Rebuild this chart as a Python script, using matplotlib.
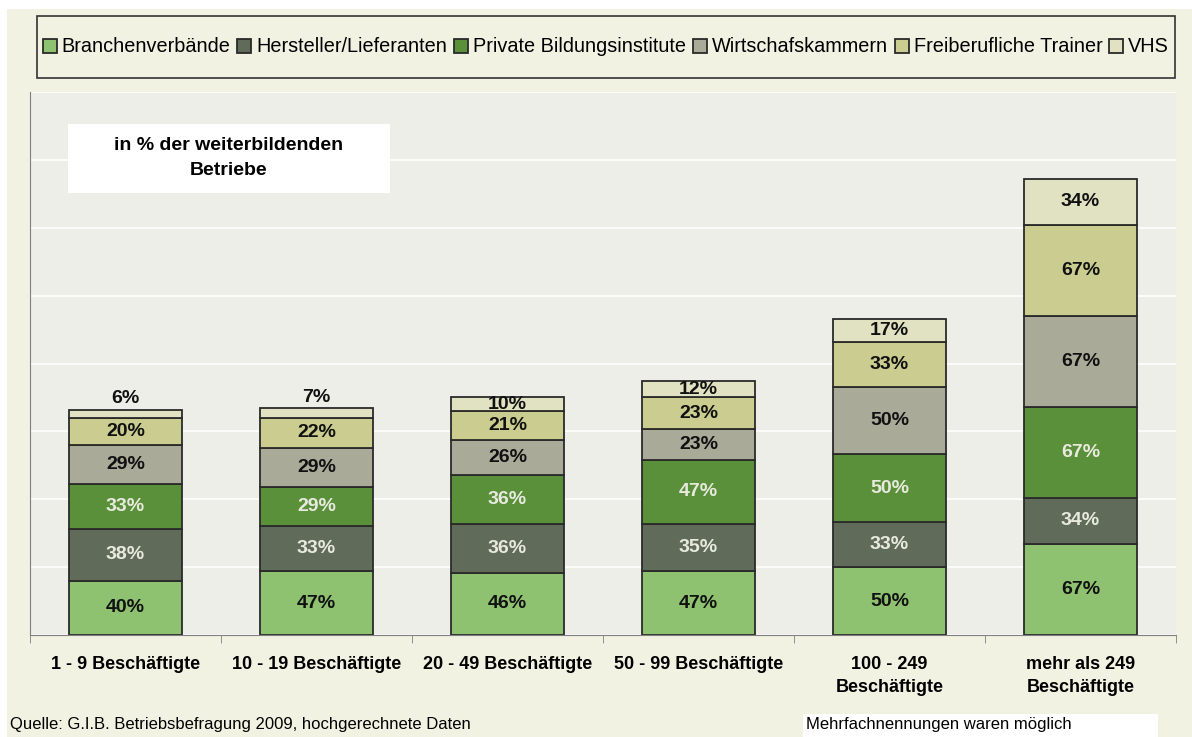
import numpy as np
from matplotlib import pyplot as plt
from matplotlib.patches import Rectangle

plt.rcParams["font.family"] = ["Liberation Sans", "DejaVu Sans"]

categories = [
    "1 - 9 Beschäftigte",
    "10 - 19 Beschäftigte",
    "20 - 49 Beschäftigte",
    "50 - 99 Beschäftigte",
    "100 - 249\nBeschäftigte",
    "mehr als 249\nBeschäftigte",
]
series_names = [
    "Branchenverbände",
    "Hersteller/Lieferanten",
    "Private Bildungsinstitute",
    "Wirtschafskammern",
    "Freiberufliche Trainer",
    "VHS",
]
branchenverbaende = [40, 47, 46, 47, 50, 67]
hersteller = [38, 33, 36, 35, 33, 34]
private_institute = [33, 29, 36, 47, 50, 67]
wirtschaftskammern = [29, 29, 26, 23, 50, 67]
freiberufliche = [20, 22, 21, 23, 33, 67]
vhs = [6, 7, 10, 12, 17, 34]

series = [branchenverbaende, hersteller, private_institute,
          wirtschaftskammern, freiberufliche, vhs]
colors = ["#8ec270", "#606b5a", "#5a9039", "#a9aa98", "#cacd8f", "#e0e2c2"]
label_colors = ["#111111", "#e8eadf", "#e8eadf", "#111111", "#111111", "#111111"]

W, H = 1192, 737
BG = "#f2f2e3"
PLOT_BG = "#eceee7"


def fx(px):
    return px / W


def fy(py):
    return 1 - py / H


fig = plt.figure(figsize=(W / 100, H / 100), dpi=100, facecolor="white")
fig.patches.append(Rectangle((fx(7), 0), 1 - fx(7), fy(9), transform=fig.transFigure,
                             facecolor=BG, edgecolor="none", zorder=-10))

ax = fig.add_axes([fx(30), fy(635), fx(1176) - fx(30), fy(92) - fy(635)], zorder=1)
ax.set_facecolor(PLOT_BG)
ax.set_axisbelow(True)

x = np.arange(len(categories))
bottom = np.zeros(len(categories))
for vals, name, col, lcol in zip(series, series_names, colors, label_colors):
    vals = np.array(vals)
    ax.bar(x, vals, 0.59, bottom=bottom, color=col, edgecolor="#2a2a2a",
           linewidth=1.3, label=name)
    for xi, b, v in zip(x, bottom, vals):
        if v < 8:
            ax.annotate(f"{v}%", (xi, b + v), xytext=(0, 2), textcoords="offset points",
                        ha="center", va="bottom", fontsize=14, fontweight="bold",
                        color="#111111")
        else:
            ax.text(xi, b + v / 2, f"{v}%", ha="center", va="center", fontsize=14,
                    fontweight="bold", color=lcol)
    bottom += vals

ax.set_xlim(-0.5, len(categories) - 0.5)
ax.set_ylim(0, 400)
ax.set_yticks(np.arange(0, 401, 50))
ax.set_yticklabels([])
ax.tick_params(axis="y", length=0)
ax.grid(axis="y", color="white", linewidth=1.2)

ax.set_xticks(x)
ax.set_xticklabels(categories, fontsize=13, fontweight="bold", linespacing=1.5)
ax.set_xticks(np.arange(-0.5, len(categories), 1), minor=True)
ax.tick_params(axis="x", which="major", length=0, pad=15)
ax.tick_params(axis="x", which="minor", length=6, color="#808080")

for side in ["top", "right"]:
    ax.spines[side].set_visible(False)
for side in ["left", "bottom"]:
    ax.spines[side].set_color("#808080")

# legend box above the plot
fig.patches.append(Rectangle((fx(37), fy(78)), fx(1175) - fx(37), fy(16) - fy(78),
                             transform=fig.transFigure, facecolor=BG,
                             edgecolor="#333333", linewidth=1.2, zorder=1))
fig.legend(loc="center", bbox_to_anchor=(fx(606), fy(47)), ncol=6, frameon=False,
           fontsize=14.3, handlelength=0.7, handleheight=0.7, handletextpad=0.25,
           columnspacing=0.35)

# note box inside the plot
fig.patches.append(Rectangle((fx(68), fy(193)), fx(390) - fx(68), fy(124) - fy(193),
                             transform=fig.transFigure, facecolor="white",
                             edgecolor="none", zorder=3))
fig.text(fx(229), fy(158), "in % der weiterbildenden\nBetriebe", ha="center", va="center",
         fontsize=14, fontweight="bold", linespacing=1.55, zorder=4)

fig.text(fx(10), fy(725), "Quelle: G.I.B. Betriebsbefragung 2009, hochgerechnete Daten",
         ha="left", va="center", fontsize=12)
fig.patches.append(Rectangle((fx(803), 0), fx(1158) - fx(803), fy(714),
                             transform=fig.transFigure, facecolor="white",
                             edgecolor="none", zorder=1))
fig.text(fx(806), fy(725), "Mehrfachnennungen waren möglich", ha="left", va="center",
         fontsize=12, zorder=2)

fig.savefig("out.png", dpi=100, facecolor=fig.get_facecolor())
